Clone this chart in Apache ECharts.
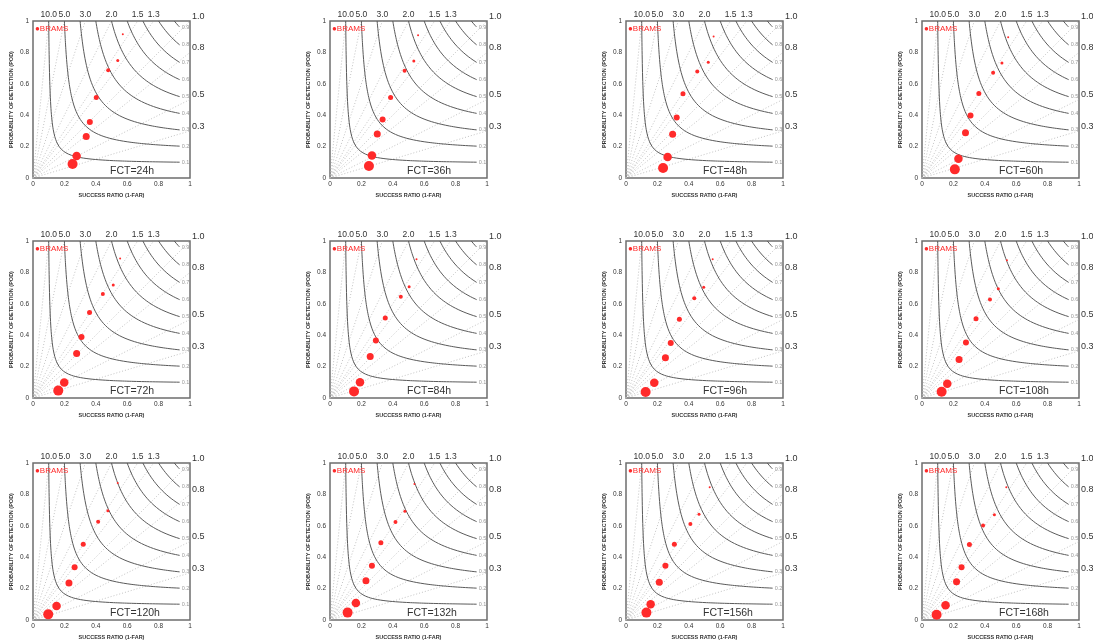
<!DOCTYPE html>
<html>
<head>
<meta charset="utf-8">
<script src="https://cdn.jsdelivr.net/npm/echarts@6/dist/echarts.min.js"></script>
<style>
  html, body { margin: 0; padding: 0; background: #fff; }
  #chart { width: 1093px; height: 641px; }
</style>
</head>
<body>
<div id="chart"></div>
<script>
const forecastHours = [24, 36, 48, 60, 72, 84, 96, 108, 120, 132, 156, 168];

// one row per panel, lowest threshold (biggest marker) first
const successRatio = [
  [0.252, 0.278, 0.339, 0.362, 0.403, 0.479, 0.540, 0.572],
  [0.248, 0.267, 0.301, 0.335, 0.386, 0.475, 0.534, 0.561],
  [0.236, 0.265, 0.297, 0.323, 0.363, 0.454, 0.524, 0.558],
  [0.209, 0.232, 0.277, 0.309, 0.362, 0.453, 0.509, 0.549],
  [0.161, 0.199, 0.278, 0.309, 0.360, 0.445, 0.511, 0.555],
  [0.153, 0.191, 0.256, 0.292, 0.352, 0.451, 0.504, 0.551],
  [0.125, 0.180, 0.251, 0.285, 0.340, 0.435, 0.495, 0.552],
  [0.125, 0.161, 0.236, 0.280, 0.344, 0.433, 0.486, 0.541],
  [0.097, 0.150, 0.229, 0.265, 0.320, 0.415, 0.477, 0.540],
  [0.112, 0.165, 0.229, 0.267, 0.324, 0.417, 0.477, 0.538],
  [0.130, 0.157, 0.212, 0.251, 0.308, 0.410, 0.465, 0.533],
  [0.093, 0.150, 0.220, 0.252, 0.302, 0.389, 0.461, 0.537]
];
const probDetection = [
  [0.089, 0.140, 0.264, 0.357, 0.513, 0.687, 0.749, 0.915],
  [0.077, 0.143, 0.281, 0.372, 0.513, 0.683, 0.745, 0.909],
  [0.064, 0.134, 0.279, 0.385, 0.536, 0.679, 0.738, 0.902],
  [0.055, 0.123, 0.289, 0.398, 0.538, 0.670, 0.732, 0.896],
  [0.047, 0.099, 0.283, 0.389, 0.545, 0.662, 0.719, 0.888],
  [0.042, 0.101, 0.264, 0.366, 0.510, 0.645, 0.708, 0.884],
  [0.038, 0.097, 0.256, 0.351, 0.501, 0.636, 0.706, 0.884],
  [0.040, 0.091, 0.245, 0.353, 0.505, 0.628, 0.696, 0.877],
  [0.036, 0.089, 0.236, 0.336, 0.483, 0.626, 0.696, 0.872],
  [0.047, 0.108, 0.250, 0.345, 0.492, 0.625, 0.693, 0.867],
  [0.047, 0.100, 0.240, 0.345, 0.483, 0.611, 0.674, 0.845],
  [0.034, 0.094, 0.243, 0.336, 0.481, 0.602, 0.670, 0.845]
];
const markerSizes = [10, 8.5, 7, 6, 5, 4, 3, 2];

const csiLevels = [0.1, 0.2, 0.3, 0.4, 0.5, 0.6, 0.7, 0.8, 0.9];
const biasLevels = [10, 5, 3, 2, 1.5, 1.3, 1, 0.8, 0.5, 0.3];
const topBiasLabels = [10, 5, 3, 2, 1.5, 1.3];
const rightBiasLabels = [1, 0.8, 0.5, 0.3];

const colLeft = [33, 330, 626, 922];
const rowTop = [21, 241, 463];
const plotW = 157, plotH = 157;
const csiEndSR = 0.934;
const FONT = "'Liberation Sans', Arial, sans-serif";

function csiCurve(c) {
  const pts = [];
  const n = 120;
  for (let k = 0; k <= n; k++) {
    const sr = c + (csiEndSR - c) * Math.pow(k / n, 3);
    const pod = 1 / (1 / c - 1 / sr + 1);
    pts.push([sr, Math.min(pod, 1)]);
  }
  return pts;
}

const grids = [], xAxes = [], yAxes = [], series = [], titles = [], legends = [];

forecastHours.forEach((h, i) => {
  const left = colLeft[i % 4];
  const top = rowTop[Math.floor(i / 4)];
  grids.push({
    left, top, width: plotW, height: plotH,
    show: true, borderColor: "#6e6e6e", borderWidth: 1.5,
    outerBoundsMode: "none"
  });

  xAxes.push({
    gridIndex: i, type: "value", min: 0, max: 1, interval: 0.2,
    name: "SUCCESS RATIO (1-FAR)", nameLocation: "middle", nameGap: 14,
    nameTextStyle: { fontSize: 5.5, color: "#333", fontWeight: "bold" },
    axisLine: { show: false }, axisTick: { show: false }, splitLine: { show: false },
    axisLabel: { fontSize: 6.5, color: "#333", margin: 3 }
  });
  xAxes.push({
    gridIndex: i, type: "value", position: "top", min: 0, max: 1,
    axisLine: { show: false }, axisTick: { show: false }, splitLine: { show: false },
    axisLabel: {
      customValues: topBiasLabels.map((b) => 1 / b),
      formatter: (v) => (1 / v).toFixed(1),
      fontSize: 8.5, color: "#333", margin: 2
    }
  });
  yAxes.push({
    gridIndex: i, type: "value", min: 0, max: 1, interval: 0.2,
    name: "PROBABILITY OF DETECTION (POD)", nameLocation: "middle", nameGap: 19,
    nameTextStyle: { fontSize: 5.5, color: "#333", fontWeight: "bold" },
    axisLine: { show: false }, axisTick: { show: false }, splitLine: { show: false },
    axisLabel: { fontSize: 6.5, color: "#333", margin: 4 }
  });
  yAxes.push({
    gridIndex: i, type: "value", position: "right", min: 0, max: 1,
    axisLine: { show: false }, axisTick: { show: false }, splitLine: { show: false },
    axisLabel: {
      customValues: rightBiasLabels,
      formatter: (v) => v.toFixed(1),
      fontSize: 9, color: "#333", margin: 2, verticalAlign: "bottom"
    }
  });

  const xi = i * 2, yi = i * 2;

  biasLevels.forEach((b) => {
    series.push({
      type: "line", xAxisIndex: xi, yAxisIndex: yi, silent: true,
      symbol: "none",
      lineStyle: { color: "#b4b4b4", width: 0.8, type: [1, 2] },
      data: [[0, 0], [Math.min(1, 1 / b), Math.min(1, b)]]
    });
  });

  csiLevels.forEach((c) => {
    series.push({
      type: "line", xAxisIndex: xi, yAxisIndex: yi, silent: true,
      symbol: "none",
      lineStyle: { color: "#5a5a5a", width: 1 },
      data: csiCurve(c),
      endLabel: {
        show: true, formatter: c.toFixed(1), distance: 2,
        fontSize: 5.5, color: "#999"
      }
    });
  });

  series.push({
    name: "BRAMS", type: "scatter", xAxisIndex: xi, yAxisIndex: yi, z: 5,
    itemStyle: { color: "#ff2a2a", opacity: 1 },
    symbolSize: (val, p) => markerSizes[p.dataIndex],
    data: successRatio[i].map((s, k) => [s, probDetection[i][k]])
  });

  titles.push({
    text: "FCT=" + h + "h", left: left + 77, top: top + plotH - 12.5, padding: 0,
    textStyle: { fontSize: 10.5, fontWeight: "normal", color: "#333", fontFamily: FONT }
  });

  legends.push({
    data: ["BRAMS"], left: left - 3, top: top + 4, padding: 0,
    icon: "circle", itemWidth: 0, itemHeight: 0,
    formatter: () => "\u25CFBRAMS",
    selectedMode: false,
    textStyle: { fontSize: 8, color: "#ff2a2a", fontFamily: FONT }
  });
});

const chart = echarts.init(document.getElementById("chart"));
chart.setOption({
  animation: false,
  backgroundColor: "#fff",
  textStyle: { fontFamily: FONT },
  title: titles,
  legend: legends,
  grid: grids,
  xAxis: xAxes,
  yAxis: yAxes,
  series
});
</script>
</body>
</html>
